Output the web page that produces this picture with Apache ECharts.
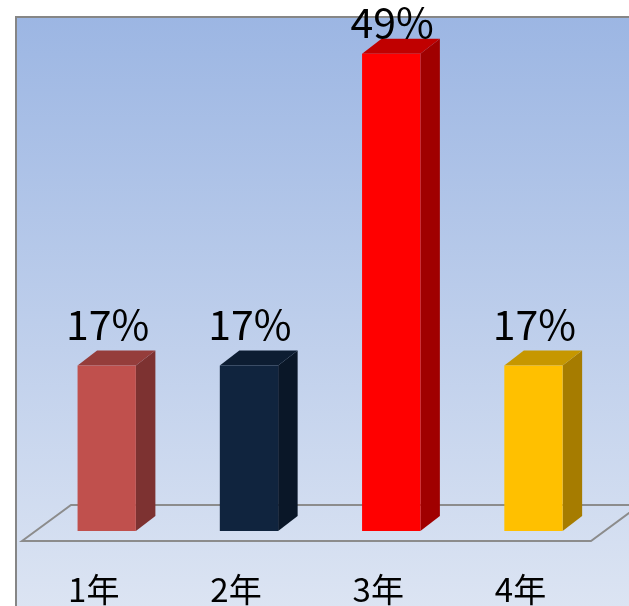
<!DOCTYPE html>
<html><head><meta charset="utf-8">
<script src="https://cdn.jsdelivr.net/npm/echarts@6/dist/echarts.min.js"></script>
<style>html,body{margin:0;padding:0;background:#fff}#c{width:629px;height:606px}</style>
</head><body><div id="c"></div>
<script>
const categories = ['1年', '2年', '3年', '4年'];
const values = [17, 17, 49, 17];
const valueTicks = [0, 50];
const frontColors = ['#C0504D', '#10243E', '#FF0000', '#FFC000'];
const sideColors = ['#7D3231', '#0A1728', '#A00000', '#A67C00'];
const topColors = ['#953D3B', '#0D1D32', '#C00000', '#C69700'];

const DX = 19.5, DY = -15;
const FONT = '"Noto Sans CJK JP", "Noto Sans", sans-serif';

const chart = echarts.init(document.getElementById('c'), null, { renderer: 'canvas' });
chart.setOption({
  backgroundColor: '#ffffff',
  animation: false,
  graphic: [{
    type: 'rect',
    z: 0,
    shape: { x: 16, y: 17, width: 700, height: 600 },
    style: {
      fill: new echarts.graphic.LinearGradient(0, 0, 0, 1, [
        { offset: 0, color: '#9CB6E3' },
        { offset: 1, color: '#DDE5F3' }
      ]),
      stroke: '#868686',
      lineWidth: 2
    }
  }],
  grid: { left: 35.6, right: 24.4, top: 44, bottom: 74 },
  xAxis: {
    type: 'category',
    data: categories,
    axisLine: { show: false },
    axisTick: { show: false },
    splitLine: { show: false },
    axisLabel: {
      fontSize: 33,
      color: '#000',
      fontFamily: FONT,
      margin: 42,
      padding: [0, 26, 0, 0]
    }
  },
  yAxis: {
    type: 'value',
    min: valueTicks[0],
    max: valueTicks[1],
    show: false
  },
  series: [
    {
      type: 'custom',
      silent: true,
      z: 1,
      data: [[0, 0]],
      renderItem: function (params, api) {
        const cs = params.coordSys;
        const base = api.coord([0, 0])[1];
        const L = cs.x, R = cs.x + cs.width;
        return {
          type: 'polygon',
          shape: { points: [[L - 13.6, base + 10], [L + 35.4, base - 26], [R + 35.4, base - 26], [R - 13.6, base + 10]] },
          style: { fill: 'none', stroke: '#8C8C8C', lineWidth: 2 }
        };
      }
    },
    {
      type: 'custom',
      z: 3,
      data: values.map(function (v, i) { return [i, v]; }),
      renderItem: function (params, api) {
        const idx = params.dataIndex;
        const i = api.value(0), v = api.value(1);
        const pt = api.coord([i, v]);
        const base = api.coord([i, 0]);
        const bw = api.size([1, 0])[0] * 0.41;
        const x0 = pt[0] - bw / 2, x1 = pt[0] + bw / 2;
        const yt = pt[1], yb = base[1];
        const labelY = Math.max(yt + DY - 26, 22);
        return {
          type: 'group',
          children: [
            { type: 'polygon', shape: { points: [[x1, yt], [x1 + DX, yt + DY], [x1 + DX, yb + DY], [x1, yb]] }, style: { fill: sideColors[idx] } },
            { type: 'polygon', shape: { points: [[x0, yt], [x0 + DX, yt + DY], [x1 + DX, yt + DY], [x1, yt]] }, style: { fill: topColors[idx] } },
            { type: 'rect', shape: { x: x0, y: yt, width: bw, height: yb - yt }, style: { fill: frontColors[idx] } },
            { type: 'text', x: pt[0] + 1, y: labelY, style: { text: v + '%', fontSize: 41, fontFamily: FONT, align: 'center', verticalAlign: 'middle', fill: '#000' } }
          ]
        };
      }
    }
  ]
});
</script>
</body></html>
